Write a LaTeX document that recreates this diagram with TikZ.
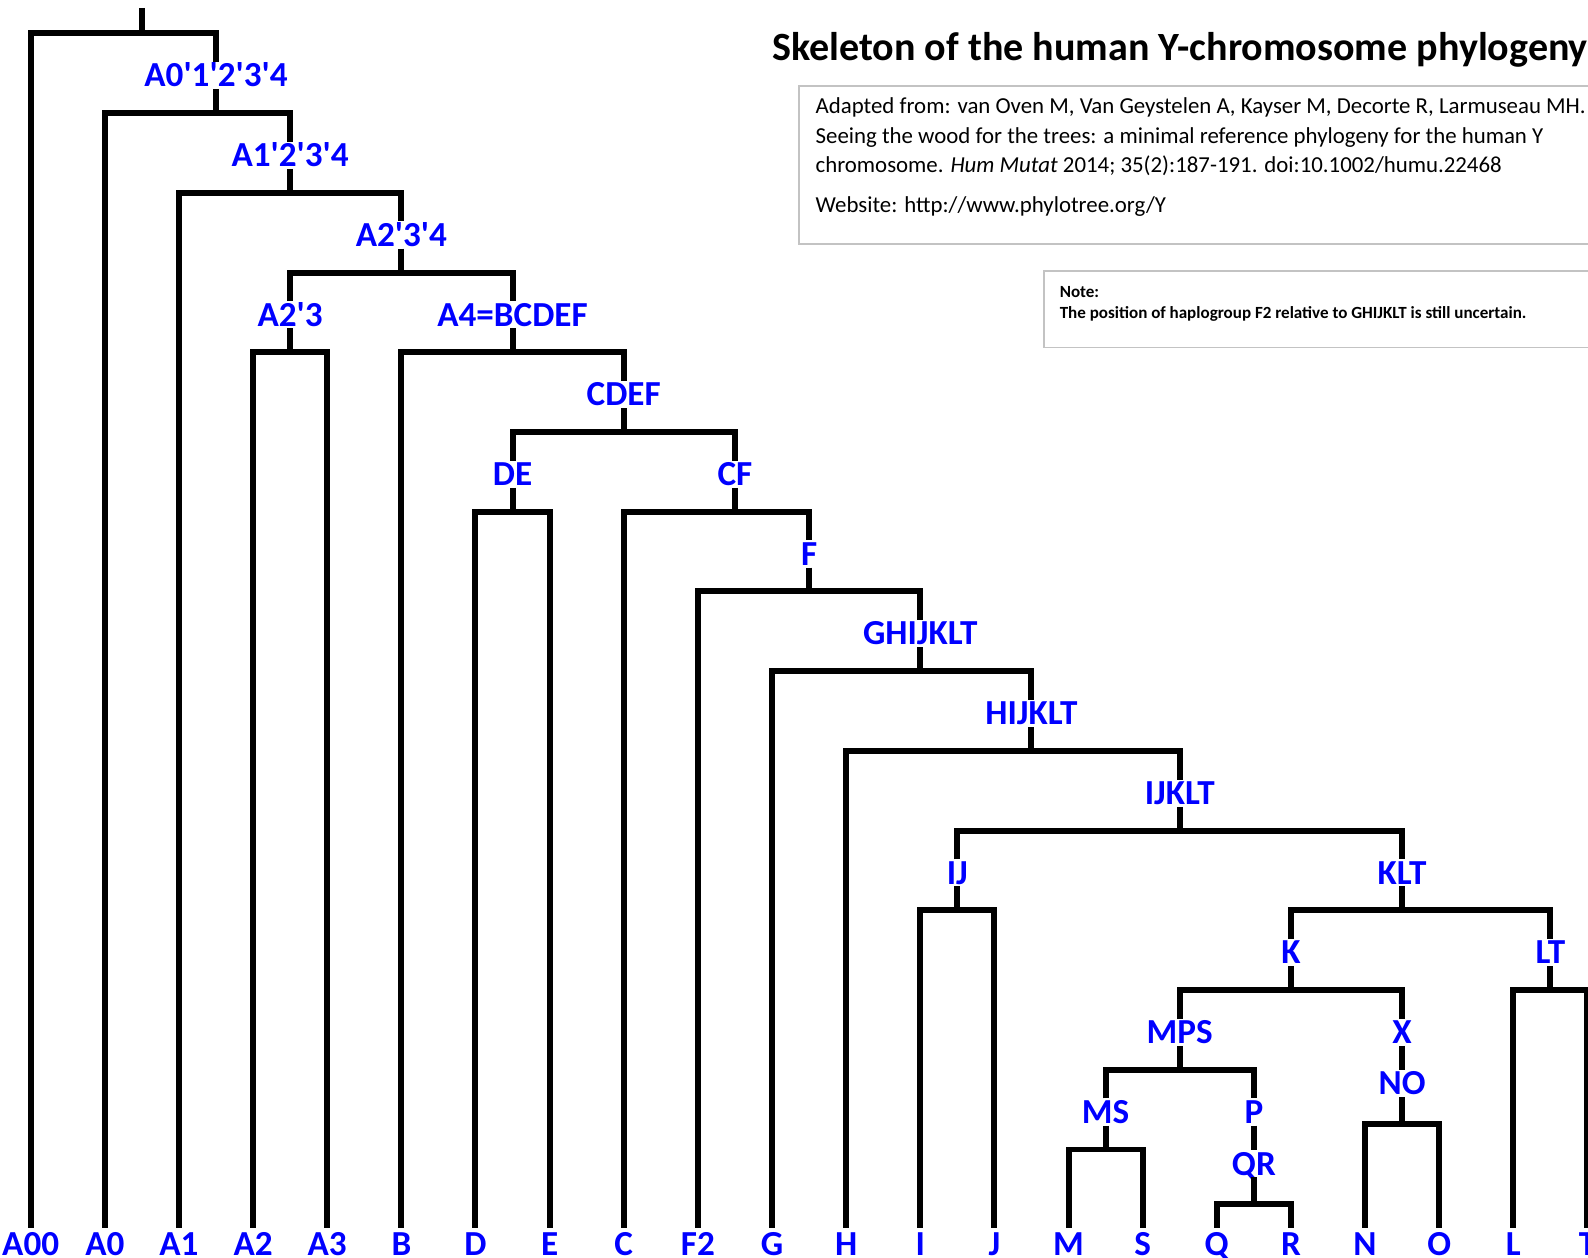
\documentclass[tikz,border=0pt]{standalone}
\usepackage{fontspec}
\setmainfont{Carlito}
\usetikzlibrary{positioning}

\definecolor{cladeblue}{RGB}{0,0,255}
\definecolor{boxgray}{RGB}{195,195,195}

\newcommand{\ap}{\textquotesingle}

\tikzset{
	branch/.style={line width=3.4pt, black},
	clade/.style={fill=white, text=cladeblue, font=\bfseries\fontsize{20}{20}\selectfont,
		inner xsep=0.02cm, inner ysep=0.04cm, text height=0.45cm, text depth=0pt},
	leaf/.style={clade, inner ysep=0.1cm},
	refbox/.style={draw=boxgray, line width=1pt},
}

\begin{document}
\begin{tikzpicture}[x=1.4826cm, y=-1.5944cm]
	\clip (-0.4141,-0.419) rectangle (21.0076,15.361);

	%title and boxes
	\node[anchor=base west, font=\bfseries\fontsize{22.8}{27}\selectfont] (title) at (9.92,0.334) {Skeleton of the human Y-chromosome phylogeny};
	\draw[refbox] (10.364,0.66) rectangle (21.5,2.642);
	\node[anchor=base west, align=left, inner sep=0pt, font=\fontsize{13}{16.7}\selectfont] (ref) at (10.584,1.745)
		{Adapted from: van Oven M, Van Geystelen A, Kayser M, Decorte R, Larmuseau MH.\\
		 Seeing the wood for the trees: a minimal reference phylogeny for the human Y\\
		 chromosome. \textit{Hum Mutat} 2014; 35(2):187-191. doi:10.1002/humu.22468};
	\node[anchor=base west, inner sep=0pt, font=\fontsize{13}{16.7}\selectfont] (web) at (10.584,2.25) {Website: http://www.phylotree.org/Y};
	\draw[refbox] (13.672,2.985) rectangle (21.5,3.939);
	\node[anchor=base west, align=left, inner sep=0pt, font=\bfseries\fontsize{9.7}{11.5}\selectfont] (note) at (13.877,3.57)
		{Note:\\The position of haplogroup F2 relative to GHIJKLT is still uncertain.};

	%leaves
	\node[leaf] (A00) at (0,15.19) {A00};
	\node[leaf] (A0) at (1,15.19) {A0};
	\node[leaf] (A1) at (2,15.19) {A1};
	\node[leaf] (A2) at (3,15.19) {A2};
	\node[leaf] (A3) at (4,15.19) {A3};
	\node[leaf] (B) at (5,15.19) {B};
	\node[leaf] (D) at (6,15.19) {D};
	\node[leaf] (E) at (7,15.19) {E};
	\node[leaf] (C) at (8,15.19) {C};
	\node[leaf] (F2) at (9,15.19) {F2};
	\node[leaf] (G) at (10,15.19) {G};
	\node[leaf] (H) at (11,15.19) {H};
	\node[leaf] (I) at (12,15.19) {I};
	\node[leaf] (J) at (13,15.19) {J};
	\node[leaf] (M) at (14,15.19) {M};
	\node[leaf] (S) at (15,15.19) {S};
	\node[leaf] (Q) at (16,15.19) {Q};
	\node[leaf] (R) at (17,15.19) {R};
	\node[leaf] (N) at (18,15.19) {N};
	\node[leaf] (O) at (19,15.19) {O};
	\node[leaf] (L) at (20,15.19) {L};
	\node[leaf] (T) at (21,15.19) {T};

	%clades
	\node[clade] (A01234) at (2.5,0.53) {A0\ap1\ap2\ap3\ap4};
	\node[clade] (A1234) at (3.5,1.53) {A1\ap2\ap3\ap4};
	\node[clade] (A234) at (5,2.53) {A2\ap3\ap4};
	\node[clade] (A23) at (3.5,3.53) {A2\ap3};
	\node[clade] (A4) at (6.5,3.53) {A4=BCDEF};
	\node[clade] (CDEF) at (8,4.53) {CDEF};
	\node[clade] (DE) at (6.5,5.53) {DE};
	\node[clade] (CF) at (9.5,5.53) {CF};
	\node[clade] (F) at (10.5,6.53) {F};
	\node[clade] (GHIJKLT) at (12,7.53) {GHIJKLT};
	\node[clade] (HIJKLT) at (13.5,8.53) {HIJKLT};
	\node[clade] (IJKLT) at (15.5,9.53) {IJKLT};
	\node[clade] (IJ) at (12.5,10.53) {IJ};
	\node[clade] (KLT) at (18.5,10.53) {KLT};
	\node[clade] (K) at (17,11.53) {K};
	\node[clade] (LT) at (20.5,11.53) {LT};
	\node[clade] (MPS) at (15.5,12.53) {MPS};
	\node[clade] (MS) at (14.5,13.53) {MS};
	\node[clade] (P) at (16.5,13.53) {P};
	\node[clade] (QR) at (16.5,14.18) {QR};
	\node[clade] (X) at (18.5,12.53) {X};
	\node[clade] (NO) at (18.5,13.175) {NO};

	%bars
	\coordinate (root) at (1.5,-0.319);
	\coordinate (bRoot) at (1.5,0);
	\coordinate (bA01234) at (2.5,1);
	\coordinate (bA1234) at (3.5,2);
	\coordinate (bA234) at (5,3);
	\coordinate (bA23) at (3.5,4);
	\coordinate (bA4) at (6.5,4);
	\coordinate (bCDEF) at (8,5);
	\coordinate (bDE) at (6.5,6);
	\coordinate (bCF) at (9.5,6);
	\coordinate (bF) at (10.5,7);
	\coordinate (bGHIJKLT) at (12,8);
	\coordinate (bHIJKLT) at (13.5,9);
	\coordinate (bIJKLT) at (15.5,10);
	\coordinate (bIJ) at (12.5,11);
	\coordinate (bKLT) at (18.5,11);
	\coordinate (bK) at (17,12);
	\coordinate (bLT) at (20.5,12);
	\coordinate (bMPS) at (15.5,13);
	\coordinate (bMS) at (14.5,14);
	\coordinate (bQR) at (16.5,14.684);
	\coordinate (bNO) at (18.5,13.683);

	%branches
	\draw[branch] (root) -- (bRoot);
	\draw[branch] (A00.north) |- (bRoot) -| (A01234.north);
	\draw[branch] (A01234.south) -- (bA01234);
	\draw[branch] (A0.north) |- (bA01234) -| (A1234.north);
	\draw[branch] (A1234.south) -- (bA1234);
	\draw[branch] (A1.north) |- (bA1234) -| (A234.north);
	\draw[branch] (A234.south) -- (bA234);
	\draw[branch] (A23.north) |- (bA234) -| (A4.north);
	\draw[branch] (A23.south) -- (bA23);
	\draw[branch] (A2.north) |- (bA23) -| (A3.north);
	\draw[branch] (A4.south) -- (bA4);
	\draw[branch] (B.north) |- (bA4) -| (CDEF.north);
	\draw[branch] (CDEF.south) -- (bCDEF);
	\draw[branch] (DE.north) |- (bCDEF) -| (CF.north);
	\draw[branch] (DE.south) -- (bDE);
	\draw[branch] (D.north) |- (bDE) -| (E.north);
	\draw[branch] (CF.south) -- (bCF);
	\draw[branch] (C.north) |- (bCF) -| (F.north);
	\draw[branch] (F.south) -- (bF);
	\draw[branch] (F2.north) |- (bF) -| (GHIJKLT.north);
	\draw[branch] (GHIJKLT.south) -- (bGHIJKLT);
	\draw[branch] (G.north) |- (bGHIJKLT) -| (HIJKLT.north);
	\draw[branch] (HIJKLT.south) -- (bHIJKLT);
	\draw[branch] (H.north) |- (bHIJKLT) -| (IJKLT.north);
	\draw[branch] (IJKLT.south) -- (bIJKLT);
	\draw[branch] (IJ.north) |- (bIJKLT) -| (KLT.north);
	\draw[branch] (IJ.south) -- (bIJ);
	\draw[branch] (I.north) |- (bIJ) -| (J.north);
	\draw[branch] (KLT.south) -- (bKLT);
	\draw[branch] (K.north) |- (bKLT) -| (LT.north);
	\draw[branch] (K.south) -- (bK);
	\draw[branch] (MPS.north) |- (bK) -| (X.north);
	\draw[branch] (LT.south) -- (bLT);
	\draw[branch] (L.north) |- (bLT) -| (T.north);
	\draw[branch] (MPS.south) -- (bMPS);
	\draw[branch] (MS.north) |- (bMPS) -| (P.north);
	\draw[branch] (MS.south) -- (bMS);
	\draw[branch] (M.north) |- (bMS) -| (S.north);
	\draw[branch] (P.south) -- (QR.north);
	\draw[branch] (QR.south) -- (bQR);
	\draw[branch] (Q.north) |- (bQR) -| (R.north);
	\draw[branch] (X.south) -- (NO.north);
	\draw[branch] (NO.south) -- (bNO);
	\draw[branch] (N.north) |- (bNO) -| (O.north);
\end{tikzpicture}
\end{document}
